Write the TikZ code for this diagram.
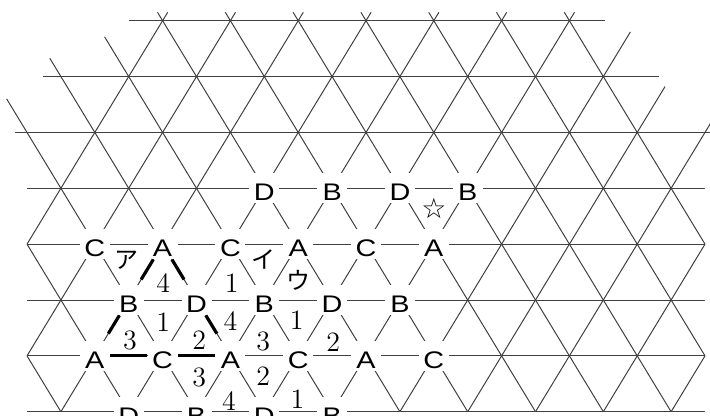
\documentclass[tikz,border=0pt]{standalone}
\usepackage{fontspec}
\newfontfamily\letterfont[FakeStretch=1.2]{Liberation Sans}
\newfontfamily\kanafont{Noto Sans CJK JP}
\newfontfamily\symfont{DejaVu Sans}
\usetikzlibrary{positioning}

\begin{document}
\begin{tikzpicture}[x=16.95pt,y=-27.93pt,
    grid/.style={black!75,line width=0.5pt},
    vert/.style={fill=white,inner sep=0pt,minimum width=15pt,minimum height=15pt,
      text height=12.6pt,text depth=0pt,font=\letterfont\fontsize{12}{12}\selectfont},
    num/.style={inner sep=0pt,font=\fontsize{14}{14}\selectfont},
    kana/.style={inner sep=0pt,font=\kanafont\fontsize{12}{12}\selectfont},
    edge/.style={line width=1.6pt,black}]
  \useasboundingbox (-0.7965,-0.3706) rectangle (20.147,7.0766);

  % rows
  \draw[grid] (3,0) -- (17.05,0);
  \draw[grid] (0.46,1) -- (18.65,1);
  \draw[grid] (-0.35,2) -- (20.147,2);
  \foreach \r in {3,...,7}
    \draw[grid] (0,\r) -- (20,\r);

  % falling lines (c-r = k)
  \foreach \k/\ra/\rb in {-6/6/7,-4/4/7,-2/1.4/7,0/0.67/7,2/0.29/7,4/-0.15/7,
      6/-0.15/7,8/-0.15/7,10/-0.15/7,12/-0.15/7,14/-0.15/6,16/-0.15/4}
    \draw[grid] ({\k+\ra},\ra) -- ({\k+\rb},\rb);

  % rising lines (c+r = m)
  \foreach \m/\ra/\rb in {4/-0.15/4,6/-0.15/6,8/-0.15/7,10/-0.15/7,12/-0.15/7,
      14/-0.15/7,16/-0.15/7,18/0.2/7,20/1.18/7,22/1.8/7,24/4/7,26/6/7}
    \draw[grid] ({\m-\ra},\ra) -- ({\m-\rb},\rb);

  % letters on the vertices
  \foreach \t/\c/\r in {D/7/3,B/9/3,D/11/3,B/13/3,
      C/2/4,A/4/4,C/6/4,A/8/4,C/10/4,A/12/4,
      B/3/5,D/5/5,B/7/5,D/9/5,B/11/5,
      A/2/6,C/4/6,A/6/6,C/8/6,A/10/6,C/12/6,
      D/3/7,B/5/7,D/7/7,B/9/7}
    \node[vert] (\t\r\c) at (\c,\r) {\t};

  % big triangle
  \draw[edge,shorten >=3pt] (A44) -- (B53);
  \draw[edge,shorten >=4pt] (B53) -- (A62);
  \draw[edge] (A62) -- (C64);
  \draw[edge] (C64) -- (A66);
  \draw[edge,shorten >=3pt] (A44) -- (D55);
  \draw[edge,shorten >=4pt] (D55) -- (A66);

  % numbers in the small triangles
  \node[num] (up44) at (4.02,4.70) {4};
  \node[num] (up46) at (6.04,4.70) {1};
  \node[num] (dn54) at (4.02,5.40) {1};
  \node[num] (dn56) at (6,5.37) {4};
  \node[num] (dn58) at (7.96,5.37) {1};
  \node[num] (up53) at (3.04,5.72) {3};
  \node[num] (up55) at (5.08,5.72) {2};
  \node[num] (up57) at (6.97,5.75) {3};
  \node[num] (up59) at (9.03,5.75) {2};
  \node[num] (dn65) at (5.08,6.38) {3};
  \node[num] (dn67) at (6.97,6.37) {2};
  \node[num] (up66) at (5.96,6.80) {4};
  \node[num] (up68) at (7.98,6.77) {1};

  \node[kana] (kana-a) at (2.94,4.28) {ア};
  \node[kana] (kana-i) at (6.97,4.28) {イ};
  \node[kana] (kana-u) at (8,4.64) {ウ};
  \node[inner sep=0pt,font=\symfont\fontsize{14}{14}\selectfont] (star) at (12,3.36) {☆};
\end{tikzpicture}
\end{document}
